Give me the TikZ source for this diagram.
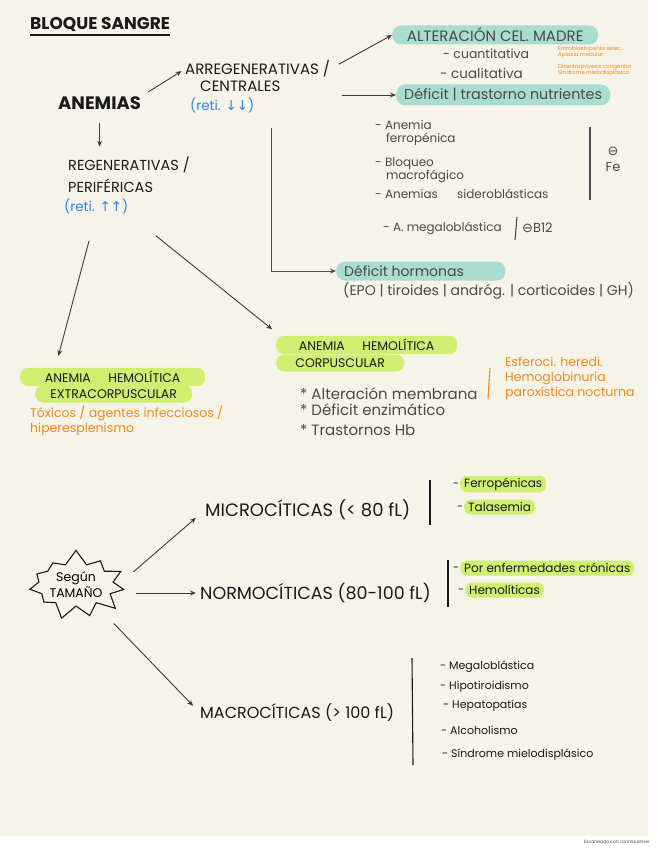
\documentclass[tikz,border=0pt]{standalone}
\usepackage{fontspec}
\setmainfont{Poppins}
\newfontfamily\symf{DejaVu Sans}
\usetikzlibrary{arrows.meta,shapes.symbols,calc}
\definecolor{paper}{HTML}{F6F3E8}
\definecolor{tealhl}{HTML}{A8DDCF}
\definecolor{greenhl}{HTML}{D0EE70}
\definecolor{orangeink}{HTML}{EE8A1E}
\definecolor{blueink}{HTML}{2E86E8}
\definecolor{ink}{HTML}{1A1A1A}
\definecolor{greyink}{HTML}{4A4A4A}
\tikzset{
  conn/.style={draw=ink!85, line width=0.9pt, -{Stealth[open,length=6pt,width=5pt]}},
  bar/.style={draw=ink, line width=1.1pt},
  lbl/.style={anchor=west, inner sep=0pt, text=ink, align=left},
  fcap/.style={font=\fontsize{15}{17}\selectfont},
  fmid/.style={font=\fontsize{12.5}{15}\selectfont},
  fsm/.style={font=\fontsize{11}{13}\selectfont},
  fnut/.style={font=\fontsize{12}{13.5}\selectfont},
  ftiny/.style={font=\fontsize{5.5}{6.2}\selectfont},
  blue/.style={lbl, font=\fontsize{13.5}{15}\selectfont, text=blueink},
  orange/.style={lbl, text=orangeink},
  grey/.style={lbl, text=greyink},
  tealbox/.style={anchor=west, fill=tealhl, rounded corners=9pt, text=greyink, inner xsep=8pt, inner ysep=0pt, minimum height=19pt},
  greenbox/.style={anchor=west, fill=greenhl, rounded corners=8pt, text=ink, inner xsep=0pt, minimum height=17pt, font=\fontsize{12.5}{14}\selectfont},
  greenitem/.style={anchor=west, fill=greenhl, rounded corners=7pt, text=ink, inner xsep=4pt, inner ysep=2pt, minimum height=15pt, font=\fontsize{12}{13}\selectfont},
  tamburst/.style={shape=starburst, draw=ink, line width=1.1pt, starburst points=11, starburst point height=15pt, random starburst=7, minimum width=94pt, minimum height=72pt, align=center, inner sep=0pt, font=\fontsize{12.5}{16}\selectfont},
}
\begin{document}
\begin{tikzpicture}[x=1pt,y=-1pt]
\useasboundingbox (0,0) rectangle (657,848);
\fill[white] (0,0) rectangle (657,848);
\fill[paper] (0,0) rectangle (648,836);

% title
\node[lbl, font=\fontsize{17}{19}\selectfont\bfseries] (title) at (30,24) {BLOQUE SANGRE};
\draw[line width=1.6pt, ink] ($(title.south west)+(0,4)$) -- ($(title.south east)+(0,4)$);

% anemias
\node[lbl, font=\fontsize{18}{20}\selectfont\bfseries] (anemias) at (58,103) {ANEMIAS};

% arregenerativas
\node[lbl, fcap] (arreg1) at (185,69) {ARREGENERATIVAS /};
\node[lbl, fcap] (arreg2) at (200,86) {CENTRALES};
\node[blue] (arregreti) at (190,105) {(reti. {\symf ↓↓})};

% regenerativas
\node[lbl, font=\fontsize{14.5}{16}\selectfont] (reg1) at (68,165) {REGENERATIVAS /};
\node[lbl, font=\fontsize{14.5}{16}\selectfont] (reg2) at (68,186) {PERIFÉRICAS};
\node[blue] (regreti) at (64,206) {(reti. {\symf ↑↑})};

\draw[conn, shorten <=8pt, shorten >=4pt] (anemias.north east) -- (arreg1.west);
\draw[conn, shorten <=13pt, shorten >=10pt] (anemias.south) -- (anemias.south |- reg1.north);

% alteracion cel madre
\node[tealbox, font=\fontsize{15}{16}\selectfont, minimum width=206pt] (altcel) at (392,35) {ALTERACIÓN CEL. MADRE};
\node[tealbox, font=\fontsize{14.3}{16}\selectfont, minimum height=21pt] (defnut) at (396,95) {Déficit | trastorno nutrientes};
\draw[conn, shorten <=10pt] (arreg1.east) -- (altcel.west);
\draw[conn, shorten <=12pt] (arreg1.east |- defnut.west) -- (defnut.west);

\node[lbl, font=\fontsize{12.5}{15}\selectfont, text=greyink] (cuanti) at (443,54) {- cuantitativa};
\node[lbl, font=\fontsize{13.5}{15}\selectfont, text=greyink] (quali) at (440,73) {- cualitativa};
\node[orange, ftiny] (cuantiex) at (558,52) {Eritroblastopenia selec.\\Aplasia medular};
\node[orange, ftiny] (qualiex) at (558,70) {Diseritropoyesis congénita\\Síndrome mielodisplásico};

% nutrients list
\node[grey, fnut] (ferro) at (375,133) {- Anemia\\\hspace*{0.9em}ferropénica};
\node[grey, fnut] (bloq) at (375,170) {- Bloqueo\\\hspace*{0.9em}macrofágico};
\node[grey, fnut] (sidero) at (375,194) {- Anemias\hspace{1.6em}sideroblásticas};
\draw[bar, greyink] (590,127) -- (590,200);
\node[grey, anchor=center, align=center, font=\fontsize{13}{16}\selectfont] (fe) at (613,159) {{\symf ⊖}\\Fe};
\node[grey, fnut] (mega) at (383,228) {- A. megaloblástica};
\draw[bar, greyink] (517,217) -- (515,240);
\node[grey, font=\fontsize{13}{15}\selectfont] (b12) at (522,228) {{\symf ⊖}B12};

% hormonas
\coordinate (hstart) at (271,128);
\node[tealbox, font=\fontsize{14}{16}\selectfont, minimum width=149pt, align=left] (horm) at (336,271) {Déficit hormonas\hspace{2.4em}};
\draw[conn, draw=greyink] (hstart) |- (horm.west);
\node[grey, font=\fontsize{14}{16}\selectfont] (hormlist) at (343,291) {(EPO | tiroides | andróg. | corticoides | GH)};

% hemoliticas
\node[greenbox, minimum width=185pt] (extra1) at (20,377) {ANEMIA\hspace{1.4em}HEMOLÍTICA};
\node[greenbox, minimum width=157pt] (extra2) at (35,394) {EXTRACORPUSCULAR};
\node[orange, fmid] (toxic) at (30,421) {Tóxicos / agentes infecciosos /\\hiperesplenismo};

\node[greenbox, minimum width=181pt] (corp1) at (276,345) {ANEMIA\hspace{1.4em}HEMOLÍTICA};
\node[greenbox, minimum width=128pt] (corp2) at (276,363) {CORPUSCULAR};

\draw[conn, shorten <=28pt, shorten >=12pt] (regreti.south) -- ($(extra1.north west)!0.19!(extra1.north east)$);
\draw[conn, shorten <=35pt, shorten >=10pt] (regreti.south east) -- ($(corp1.north west)+(4,0)$);

\node[grey, font=\fontsize{15}{17}\selectfont] (memb) at (300,394) {* Alteración membrana};
\node[grey, font=\fontsize{15}{17}\selectfont] (enzi) at (300,410) {* Déficit enzimático};
\node[grey, font=\fontsize{15}{17}\selectfont] (hb) at (300,430) {* Trastornos Hb};
\draw[bar, orangeink] (490,368) -- (488,399);
\node[orange, fmid] (esfero) at (505,378) {Esferoci. heredi.\\Hemoglobinuria\\paroxística nocturna};

% segun tamano
\node[tamburst] (tam) at (76,585) {Según\\TAMAÑO};

\node[lbl, font=\fontsize{18}{20}\selectfont] (micro) at (205,510) {MICROCÍTICAS (< 80 fL)};
\node[lbl, font=\fontsize{17.5}{20}\selectfont] (normo) at (200,593) {NORMOCÍTICAS (80-100 fL)};
\node[lbl, font=\fontsize{16}{18}\selectfont] (macro) at (200,713) {MACROCÍTICAS (> 100 fL)};

\draw[conn, shorten <=20pt, shorten >=12pt] (tam.east) -- (micro.west);
\draw[conn, shorten <=18pt, shorten >=4pt] (tam.east |- normo.west) -- (normo.west);
\draw[conn, shorten <=26pt, shorten >=10pt] (tam.south east) -- (macro.west);

\draw[bar] (430,480) -- (430,525);
\node[lbl, fsm] (d1) at (453,485) {-};
\node[greenitem] (ferrop) at (460,484) {Ferropénicas};
\node[lbl, fsm] (d2) at (457,508) {-};
\node[greenitem] (talas) at (464,507) {Talasemia};

\draw[bar] (448,560) -- (448,607);
\node[lbl, fsm] (d3) at (453,569) {-};
\node[greenitem] (cronic) at (460,568) {Por enfermedades crónicas};
\node[lbl, fsm] (d4) at (458,591) {-};
\node[greenitem] (hemol) at (465,590) {Hemolíticas};

\draw[bar] (412,658) -- (413,765);
\node[lbl, fsm] (m1) at (440,667) {- Megaloblástica};
\node[lbl, fsm] (m2) at (440,687) {- Hipotiroidismo};
\node[lbl, fsm] (m3) at (443,706) {- Hepatopatías};
\node[lbl, fsm] (m4) at (441,730) {- Alcoholismo};
\node[lbl, fsm] (m5) at (442,755) {- Síndrome mielodisplásico};

\node[anchor=east, inner sep=0pt, text=greyink, font=\fontsize{4.5}{5}\selectfont] (scan) at (650,842) {Escaneado con CamScanner};
\end{tikzpicture}
\end{document}
